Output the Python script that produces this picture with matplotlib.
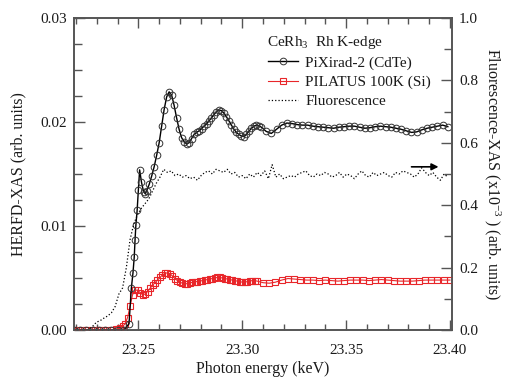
import numpy as np
import matplotlib
matplotlib.use("Agg")
import matplotlib.pyplot as plt
from matplotlib.ticker import MultipleLocator, FormatStrFormatter

plt.rcParams['font.family'] = ['Liberation Serif', 'DejaVu Serif']
plt.rcParams['mathtext.fontset'] = 'custom'
plt.rcParams['mathtext.rm'] = 'Liberation Serif'
plt.rcParams['mathtext.it'] = 'Liberation Serif:italic'

# ---------------- data ----------------
# PiXirad-2 (CdTe), HERFD-XAS in units of 1e-3
pix_e_base = [23.219, 23.222, 23.225, 23.228, 23.231, 23.234, 23.237, 23.240, 23.243]
pix_v_base = [0, 0, 0, 0, 0, 0, 0, 0, 0]
pix_e_edge = [23.2455, 23.2466, 23.2474, 23.2480, 23.2484, 23.2488, 23.2494,
              23.2500, 23.2506, 23.2515, 23.2525, 23.2534]
pix_v_edge = [0.6, 4.0, 5.5, 7.0, 8.7, 10.1, 11.5, 13.5, 15.4, 14.2, 13.3, 13.1]
pix_e_mid = np.round(np.arange(23.2540, 23.3093, 0.0012), 4)
pix_v_mid = [13.4, 14.0, 14.8, 15.7, 16.8, 18.0, 19.6, 21.2, 22.4, 22.9,
             22.6, 21.6, 20.4, 19.3, 18.5, 18.1, 17.9, 18.0, 18.4, 18.8,
             19.0, 19.15, 19.35, 19.6, 19.8, 20.1, 20.4, 20.7, 21.0, 21.15,
             21.1, 20.85, 20.5, 20.1, 19.7, 19.3, 19.0, 18.8, 18.65, 18.6,
             18.8, 19.1, 19.4, 19.6, 19.7, 19.65, 19.5]
pix_e_tail = np.round(np.arange(23.3115, 23.3991, 0.0025), 4)
pix_v_tail = [19.1, 18.9, 19.3, 19.7, 19.9, 19.85, 19.75, 19.7, 19.7, 19.6,
              19.55, 19.5, 19.45, 19.4, 19.5, 19.55, 19.6, 19.6, 19.5, 19.4,
              19.45, 19.55, 19.6, 19.55, 19.5, 19.4, 19.3, 19.15, 19.0, 19.05,
              19.25, 19.4, 19.5, 19.6, 19.7, 19.55]

# PILATUS 100K (Si), HERFD-XAS in units of 1e-3
pil_e_base = np.round(np.arange(23.219, 23.2391, 0.002), 4)
pil_v_base = [0.0, 0.0, 0.0, 0.0, 0.0, 0.0, 0.0, 0.0, 0.0, 0.0, 0.05]
pil_e_mid = np.round(np.arange(23.2400, 23.3073, 0.0012), 4)
pil_v_mid = [0.1, 0.2, 0.35, 0.6, 1.2, 2.3, 3.4, 3.8, 3.85, 3.6,
             3.4, 3.45, 3.7, 4.0, 4.3, 4.55, 4.8, 5.05, 5.3, 5.45,
             5.5, 5.4, 5.2, 4.95, 4.75, 4.6, 4.5, 4.45, 4.45, 4.5,
             4.6, 4.65, 4.65, 4.7, 4.75, 4.8, 4.85, 4.9, 4.95, 5.0,
             5.05, 5.05, 5.0, 4.95, 4.9, 4.85, 4.8, 4.75, 4.7, 4.65,
             4.6, 4.6, 4.65, 4.7, 4.75, 4.75, 4.7]
pil_e_tail = np.round(np.arange(23.310, 23.4001, 0.003), 4)
pil_v_tail = [4.55, 4.5, 4.6, 4.8, 4.95, 4.9, 4.85, 4.8, 4.8, 4.75,
              4.8, 4.75, 4.7, 4.75, 4.8, 4.8, 4.8, 4.75, 4.8, 4.85,
              4.8, 4.75, 4.7, 4.7, 4.7, 4.75, 4.8, 4.8, 4.8, 4.8, 4.8]

# Fluorescence-XAS (x1e-3), right axis
flu_e = np.round(np.arange(23.219, 23.3991, 0.0018), 4)
flu_v = [0.0, 0.0, 0.0, 0.0, 0.002, 0.012, 0.025, 0.03, 0.038, 0.045,
         0.055, 0.075, 0.115, 0.135, 0.2, 0.29, 0.34, 0.37, 0.39, 0.405,
         0.42, 0.445, 0.47, 0.49, 0.515, 0.505, 0.51, 0.495, 0.5, 0.49,
         0.495, 0.485, 0.49, 0.48, 0.495, 0.505, 0.51, 0.5, 0.515, 0.51,
         0.505, 0.515, 0.5, 0.505, 0.49, 0.495, 0.485, 0.5, 0.49, 0.505,
         0.495, 0.51, 0.485, 0.53, 0.49, 0.5, 0.485, 0.49, 0.495, 0.49,
         0.5, 0.505, 0.51, 0.495, 0.49, 0.5, 0.495, 0.505, 0.5, 0.49,
         0.495, 0.505, 0.49, 0.5, 0.495, 0.485, 0.5, 0.51, 0.495, 0.49,
         0.505, 0.495, 0.5, 0.505, 0.495, 0.49, 0.505, 0.5, 0.51, 0.505,
         0.5, 0.49, 0.5, 0.52, 0.505, 0.495, 0.505, 0.49, 0.48, 0.5, 0.49]

x_ticks = [23.25, 23.30, 23.35, 23.40]
legend_title = "CeRh$_3$  Rh K-edge"
labels = ["PiXirad-2 (CdTe)", "PILATUS 100K (Si)", "Fluorescence"]

pix_e = np.concatenate([pix_e_base, pix_e_edge, pix_e_mid, pix_e_tail])
pix_v = np.concatenate([pix_v_base, pix_v_edge, pix_v_mid, pix_v_tail]) * 1e-3
pil_e = np.concatenate([pil_e_base, pil_e_mid, pil_e_tail])
pil_v = np.concatenate([pil_v_base, pil_v_mid, pil_v_tail]) * 1e-3

# ---------------- plot ----------------
fig = plt.figure(figsize=(5.08, 3.78), dpi=100)
ax = fig.add_axes([74/508, 48/378, (452-74)/508, (330-18)/378])
ax2 = ax.twinx()

spine_c = '#555555'
red = '#e8262a'
txt_c = '#1a1a1a'

l1, = ax.plot(pix_e, pix_v, '-', color='black', lw=1.0, marker='o', ms=4.8,
              mfc='none', mec='#333333', mew=0.7, label=labels[0], zorder=4)
l2, = ax.plot(pil_e, pil_v, '-', color=red, lw=0.8, marker='s', ms=4.0,
              mfc='none', mec=red, mew=0.8, label=labels[1], zorder=3)
l3, = ax2.plot(flu_e, flu_v, ':', color='black', lw=0.9, label=labels[2])

ax.set_xlim(23.219, 23.401)
ax.set_ylim(0, 0.03)
ax2.set_ylim(0, 1.0)

ax.xaxis.set_minor_locator(MultipleLocator(0.01))
ax.set_xticks(x_ticks)
ax.xaxis.set_major_formatter(FormatStrFormatter('%.2f'))
ax.yaxis.set_major_locator(MultipleLocator(0.01))
ax.yaxis.set_minor_locator(MultipleLocator(0.0025))
ax.yaxis.set_major_formatter(FormatStrFormatter('%.2f'))
ax2.yaxis.set_major_locator(MultipleLocator(0.2))
ax2.yaxis.set_minor_locator(MultipleLocator(0.1))
ax2.yaxis.set_major_formatter(FormatStrFormatter('%.1f'))

for a in (ax, ax2):
    for s in a.spines.values():
        s.set_color(spine_c)
        s.set_linewidth(1.2)

ax.tick_params(axis='both', which='both', direction='in', colors=spine_c,
               labelcolor=txt_c, labelsize=11, width=1.0)
ax.tick_params(axis='x', which='both', top=True, bottom=True)
ax.tick_params(axis='y', which='both', left=True, right=False)
ax.tick_params(axis='x', which='major', length=7, pad=10)
ax.tick_params(axis='x', which='minor', length=4.5)
ax.tick_params(axis='y', which='major', length=8, pad=5)
ax.tick_params(axis='y', which='minor', length=6)
ax2.tick_params(axis='y', which='both', direction='in', colors=spine_c,
                labelcolor=txt_c, labelsize=11, width=1.0)
ax2.tick_params(axis='y', which='major', length=8, pad=5)
ax2.tick_params(axis='y', which='minor', length=6)

ax.set_xlabel("Photon energy (keV)", fontsize=11.5, labelpad=3, color=txt_c)
ax.set_ylabel("HERFD-XAS (arb. units)", fontsize=11.5, labelpad=10, color=txt_c)
ax2.set_ylabel("Fluorescence-XAS (x10$^{-3}$ ) (arb. units)", fontsize=11.5,
               rotation=270, labelpad=18, color=txt_c)

ax2.annotate('', xy=(23.3945, 0.523), xytext=(23.3815, 0.523),
             arrowprops=dict(arrowstyle='-|>', color='black', lw=1.2,
                             mutation_scale=10, shrinkA=0, shrinkB=0))

ax2.text(0.511, 0.923, legend_title, transform=ax2.transAxes, fontsize=11,
         color=txt_c, ha='left', va='center')

leg = ax2.legend([l1, l2, l3], labels, loc='upper left',
                 bbox_to_anchor=(0.513, 0.878), frameon=False, fontsize=11,
                 handlelength=2.0, handletextpad=0.45,
                 labelspacing=0.36, borderaxespad=0, borderpad=0,
                 numpoints=1)
for t in leg.get_texts():
    t.set_color(txt_c)

fig.savefig("out.png", dpi=100)
